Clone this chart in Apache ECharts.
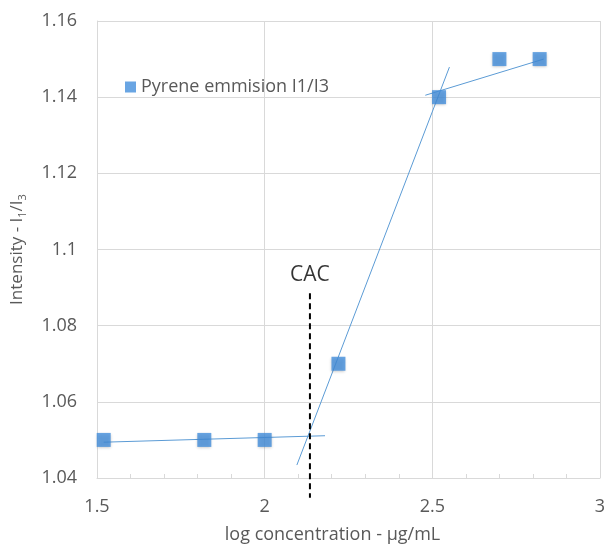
<!DOCTYPE html>
<html><head><meta charset="utf-8">
<script src="https://cdn.jsdelivr.net/npm/echarts@6/dist/echarts.min.js"></script>
<style>html,body{margin:0;padding:0;background:#fff}#c{width:607px;height:550px}</style>
</head><body><div id="c"></div>
<script>
const logConc = [1.52, 1.82, 2.0, 2.22, 2.52, 2.70, 2.82];
const ratio = [1.05, 1.05, 1.05, 1.07, 1.14, 1.15, 1.15];
const fitLow = [[1.52, 1.0494], [2.18, 1.0511]];
const fitMid = [[2.096, 1.0434], [2.551, 1.1479]];
const fitHigh = [[2.479, 1.1405], [2.832, 1.150]];
const cacLine = [[2.135, 1.0885], [2.135, 1.0348]];
const cacLabel = [[2.135, 1.0885]];
const seriesName = 'Pyrene emmision I1/I3';
const xTitle = 'log concentration - \u00b5g/mL';
const yTitle = 'Intensity - I{s|1}/I{s|3}';

const font = '"Open Sans", "Liberation Sans", sans-serif';
const grey = '#595959';
const trend = { type: 'line', symbol: 'none', silent: true, lineStyle: { color: '#5b9bd5', width: 1 }, z: 3 };
const chart = echarts.init(document.getElementById('c'));
chart.setOption({
  animation: false,
  textStyle: { fontFamily: font },
  grid: { left: 97, right: 7, top: 21, bottom: 72, outerBoundsMode: 'none', containLabel: false },
  legend: {
    data: [seriesName], left: 120, top: 73, icon: 'rect', itemWidth: 11, itemHeight: 11, itemGap: 6,
    textStyle: { color: grey, fontSize: 18, fontFamily: font }
  },
  xAxis: {
    type: 'value', min: 1.5, max: 3, interval: 0.5,
    name: xTitle, nameLocation: 'middle', nameGap: 48,
    nameTextStyle: { color: grey, fontSize: 18, fontFamily: font, padding: [0, 32, 0, 0] },
    axisLine: { show: true, lineStyle: { color: '#d9d9d9', width: 1 } },
    axisTick: { show: true, inside: true, length: 4, lineStyle: { color: '#d9d9d9' } },
    minorTick: { show: true, splitNumber: 5, length: 4, lineStyle: { color: '#d9d9d9' } },
    splitLine: { show: true, lineStyle: { color: '#d9d9d9', width: 1 } },
    axisLabel: { color: grey, fontSize: 18, margin: 20, fontFamily: font }
  },
  yAxis: {
    type: 'value', min: 1.04, max: 1.16, interval: 0.02,
    name: yTitle, nameLocation: 'middle', nameGap: 69, nameRotate: 90,
    nameTextStyle: { color: grey, fontSize: 17, fontFamily: font,
      rich: { s: { fontSize: 11, color: grey, fontFamily: font, padding: [10, 0, 0, 0] } } },
    axisLine: { show: true, lineStyle: { color: '#d9d9d9', width: 1 } },
    axisTick: { show: false },
    splitLine: { show: true, lineStyle: { color: '#d9d9d9', width: 1 } },
    axisLabel: { color: grey, fontSize: 18, margin: 20, fontFamily: font }
  },
  series: [
    Object.assign({}, trend, { data: fitLow }),
    Object.assign({}, trend, { data: fitMid }),
    Object.assign({}, trend, { data: fitHigh }),
    {
      type: 'line', symbol: 'none', silent: true, clip: false, z: 4,
      lineStyle: { color: '#000', width: 2, type: [6, 4] },
      data: cacLine
    },
    {
      type: 'scatter', silent: true, symbolSize: 1, z: 4,
      itemStyle: { color: 'rgba(0,0,0,0)' },
      label: { show: true, position: 'top', distance: 7, formatter: 'CAC', color: '#000', fontSize: 21, fontFamily: font },
      data: cacLabel
    },
    {
      name: seriesName, type: 'scatter', symbol: 'rect', symbolSize: 14, z: 5,
      itemStyle: { color: '#448fdc', shadowBlur: 3, shadowColor: 'rgba(0,0,0,0.3)', shadowOffsetY: 1 },
      data: logConc.map((x, i) => [x, ratio[i]])
    }
  ]
});
</script></body></html>
